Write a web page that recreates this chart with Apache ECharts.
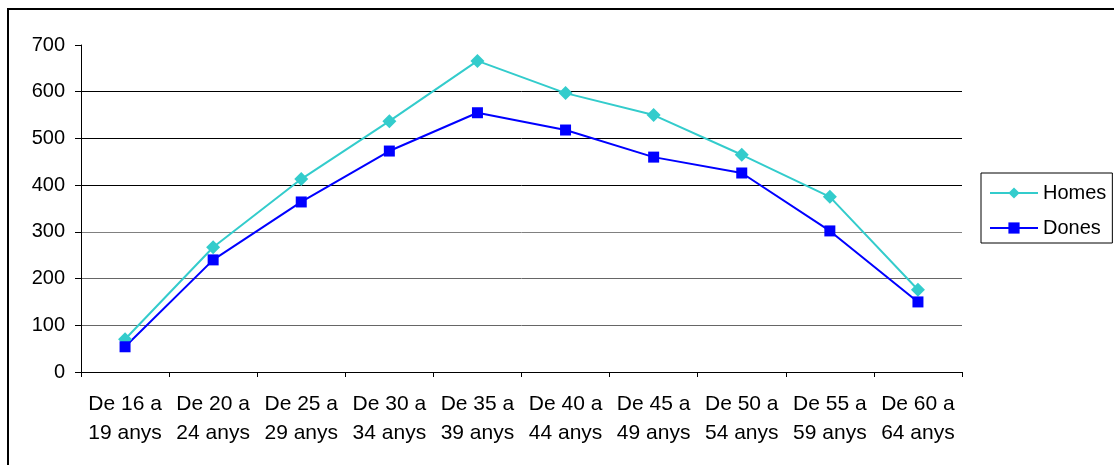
<!DOCTYPE html>
<html>
<head>
<meta charset="utf-8">
<script src="https://cdn.jsdelivr.net/npm/echarts@6/dist/echarts.min.js"></script>
<style>html,body{margin:0;padding:0;background:#fff;}#c{width:1114px;height:465px;}</style>
</head>
<body>
<div id="c"></div>
<script>
const categories = ["De 16 a\n19 anys","De 20 a\n24 anys","De 25 a\n29 anys","De 30 a\n34 anys","De 35 a\n39 anys","De 40 a\n44 anys","De 45 a\n49 anys","De 50 a\n54 anys","De 55 a\n59 anys","De 60 a\n64 anys"];
const homes = [70, 267, 413, 537, 666, 597, 550, 465, 375, 176];
const dones = [54, 240, 364, 473, 555, 518, 460, 426, 302, 150];
const yTicks = [0, 100, 200, 300, 400, 500, 600, 700];

const chart = echarts.init(document.getElementById('c'), null, {renderer: 'canvas'});
const font = 'Liberation Sans, Arial, sans-serif';
chart.setOption({
  animation: false,
  backgroundColor: '#fff',
  graphic: [{
    type: 'rect', shape: {x: 8, y: 9, width: 1200, height: 600},
    style: {fill: 'none', stroke: '#000', lineWidth: 2}, silent: true, z: 100
  }],
  grid: {left: 81, right: 152, top: 45, bottom: 93, containLabel: false},
  legend: {
    orient: 'vertical', left: 981, top: 173,
    padding: [10, 6, 5, 8], itemGap: 15, itemWidth: 48, itemHeight: 14,
    borderColor: '#000', borderWidth: 1,
    textStyle: {fontFamily: font, fontSize: 20, color: '#000', lineHeight: 20},
    data: ['Homes', 'Dones']
  },
  xAxis: {
    type: 'category', data: categories, boundaryGap: true,
    axisLine: {lineStyle: {color: '#000', width: 1}},
    axisTick: {show: true, length: 5, lineStyle: {color: '#000'}},
    axisLabel: {interval: 0, fontFamily: font, fontSize: 21, color: '#000', lineHeight: 29, margin: 18}
  },
  yAxis: {
    type: 'value', min: yTicks[0], max: yTicks[yTicks.length - 1], interval: 100,
    axisLine: {show: true, lineStyle: {color: '#000', width: 1}},
    axisTick: {show: true, length: 6, lineStyle: {color: '#000'}},
    axisLabel: {fontFamily: font, fontSize: 20, color: '#000', margin: 16},
    splitLine: {show: true, lineStyle: {width: 1, color: ['#000', '#666', '#666', '#808080', '#000', '#000', '#000', 'rgba(0,0,0,0)']}}
  },
  series: [
    {
      name: 'Homes', type: 'line', data: homes,
      symbol: 'diamond', symbolSize: 14,
      lineStyle: {color: '#33CCCC', width: 2},
      itemStyle: {color: '#33CCCC'}
    },
    {
      name: 'Dones', type: 'line', data: dones,
      symbol: 'rect', symbolSize: 11,
      lineStyle: {color: '#0000FF', width: 2},
      itemStyle: {color: '#0000FF'}
    }
  ]
});
</script>
</body>
</html>
